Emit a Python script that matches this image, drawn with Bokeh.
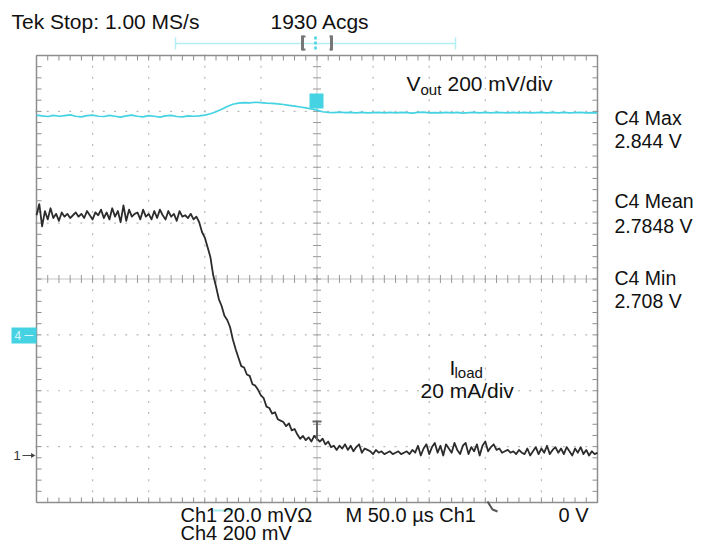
import numpy as np
from bokeh.plotting import figure
from bokeh.models import Range1d
from bokeh.core.properties import value
from bokeh.embed import file_html
from bokeh.resources import INLINE

# ---------------- data ----------------
# time base: 50 us/div, trigger at the centre of the screen
t_iload_us = np.arange(-250.0, 250.01, 2.5)          # 201 samples
iload_mA = [
    # flat high level
    86.0, 90.0, 82.0, 87.5, 84.5, 88.5, 85.0, 86.5, 84.0, 87.0,
    85.5, 86.5, 85.0, 86.0, 87.0, 85.5, 86.5, 85.0, 87.5, 86.0,
    84.5, 87.0, 86.0, 88.0, 85.0, 87.0, 84.5, 88.5, 85.5, 87.5,
    83.5, 89.5, 84.0, 88.0, 85.5, 86.5, 87.0, 84.5, 88.0, 85.5,
    86.5, 84.5, 87.5, 85.0, 88.0, 86.0, 84.5, 87.5, 85.5, 86.5,
    84.0, 87.5, 85.5, 86.0, 85.0, 86.5, 84.5, 85.5,
    # load release
    83.5, 80.0, 78.0, 74.5, 71.0, 64.5, 60.5, 56.0, 53.5, 50.0,
    48.5, 46.0, 41.5, 38.0, 35.0, 32.0, 31.5, 29.0, 28.5, 25.5,
    25.0, 23.5, 21.5, 20.5, 17.5, 17.0, 15.0, 15.5, 13.0, 12.5,
    12.0, 10.5, 11.5, 9.0, 9.5, 7.5, 6.0, 7.0, 5.5, 6.5,
    5.0, 7.0, 6.0, 5.0, 6.0, 4.0, 5.0, 3.0, 3.5, 2.0,
    3.5,
    # flat low level
    2.5, 4.0, 2.0, 3.5, 1.5, 3.0, 4.0, 1.0, 2.5, 2.0,
    1.5, 0.5, 2.0, 1.0, 1.5, 0.5, 1.0, 1.5, 0.5, 1.0,
    1.5, 0.5, 1.0, 1.5, 0.5, 2.0, 1.0, 3.5, 0.0, 2.5,
    4.0, 0.5, 3.0, 4.5, 1.0, 3.5, 0.0, 4.0, 2.5, 1.0,
    4.5, 2.0, 0.5, 3.5, 4.5, 0.5, 3.0, 1.5, 4.0, 0.0,
    3.5, 5.0, 1.5, 3.0, 4.0, 2.0, 2.5, 1.0, 1.5, 2.0,
    1.0, 1.5, 0.5, 2.0, 1.0, 0.5, 2.5, 0.0, 1.5, 3.0,
    0.5, 2.5, 1.0, 3.5, 0.5, 2.0, 3.0, 1.0, 2.5, 0.5,
    3.0, 1.5, 0.0, 2.5, 1.0, 3.0, 0.5, 2.0, 0.0, 1.5,
    0.5, 1.0,
]

t_vout_us = np.arange(-250.0, 250.01, 5.0)           # 101 samples
vout_V = [
    2.779, 2.776, 2.774, 2.778, 2.775, 2.777, 2.780, 2.775, 2.773, 2.777,
    2.779, 2.775, 2.774, 2.778, 2.775, 2.772, 2.776, 2.779, 2.775, 2.773,
    2.777, 2.775, 2.772, 2.776, 2.778, 2.774, 2.773, 2.776, 2.775,
    2.776, 2.779, 2.784, 2.791, 2.800, 2.810, 2.818, 2.822, 2.824, 2.823,
    2.825, 2.824, 2.822, 2.821,
    2.819, 2.817, 2.814, 2.811, 2.808, 2.805, 2.801, 2.797,
    2.791, 2.789, 2.788, 2.790, 2.788, 2.789, 2.787, 2.789, 2.787, 2.788,
    2.789, 2.787, 2.789, 2.787, 2.789, 2.788, 2.786, 2.789, 2.790, 2.787,
    2.788, 2.787, 2.789, 2.787, 2.789, 2.786, 2.788, 2.789, 2.787, 2.789,
    2.787, 2.789, 2.788, 2.787, 2.789, 2.787, 2.789, 2.787, 2.788, 2.789,
    2.787, 2.789, 2.787, 2.789, 2.787, 2.788, 2.789, 2.787, 2.788, 2.787,
]

header_left = "Tek Stop: 1.00 MS/s"
header_mid = "1930 Acgs"
vout_label = ("V", "out", "200 mV/div")
iload_label = ("I", "load", "20 mA/div")
meas_names = ["C4 Max", "C4 Mean", "C4 Min"]
meas_values = ["2.844 V", "2.7848 V", "2.708 V"]
ch_settings = ["Ch1 20.0 mV\u03a9", "Ch4 200 mV"]
timebase_text = "M 50.0 \u00b5s Ch1"
trigger_text = "0 V"

US_PER_DIV = 50.0
MA_PER_DIV = 20.0
V_PER_DIV = 0.2

# ---------------- layout (canvas pixels) ----------------
W, H = 694, 544
PXX = 56.1      # px per horizontal division
PXY = 55.875    # px per vertical division
CXP, CYP = 316.5, 278.5   # screen centre
GND1_PY = 455.0           # channel-1 ground marker
V_REF_PY = 113.0          # position of the mean Vout


def X(px):
    return (px - CXP) / PXX * US_PER_DIV


def Y(py):
    return (CYP - py) / PXY


def IA(py):
    return (GND1_PY - py) / PXY * MA_PER_DIV


def VV(py):
    return 2.7848 + (V_REF_PY - py) / PXY * V_PER_DIV


p = figure(width=W, height=H, output_backend="svg", toolbar_location=None,
           x_axis_location=None, y_axis_location=None,
           x_range=Range1d(X(0), X(W)), y_range=Range1d(Y(H), Y(0)),
           min_border=0)
p.extra_y_ranges = {"iload": Range1d(IA(H), IA(0)),
                    "vout": Range1d(VV(H), VV(0))}
p.outline_line_color = None
p.background_fill_color = "white"
p.border_fill_color = "white"
p.xgrid.visible = False
p.ygrid.visible = False

FONT = value("Liberation Sans")
GRID = "#b9b9b9"
FRAME = "#8e8e8e"
CYAN = "#45d3e3"

XMIN, XMAX = -5 * US_PER_DIV, 5 * US_PER_DIV
YMIN, YMAX = -4.0, 4.0
minor_x = np.arange(XMIN, XMAX + 0.01, US_PER_DIV / 5)
minor_y = np.arange(YMIN, YMAX + 0.001, 0.2)

# dotted graticule lines
for k in range(-4, 5):
    if k == 0:
        continue
    xv = k * US_PER_DIV
    p.rect(x=[xv] * len(minor_y), y=list(minor_y), width=1.2, height=2,
           width_units="screen", height_units="screen",
           fill_color=GRID, line_color=None)
for k in range(-3, 4):
    if k == 0:
        continue
    p.rect(x=list(minor_x), y=[float(k)] * len(minor_x), width=2, height=1.2,
           width_units="screen", height_units="screen",
           fill_color=GRID, line_color=None)

# centre lines with cross ticks
p.line([XMIN, XMAX], [0, 0], line_color="#c4c4c4", line_width=1)
p.line([0, 0], [YMIN, YMAX], line_color="#c4c4c4", line_width=1)
tly = 4 / PXY
tlx = 4 / PXX * US_PER_DIV
p.segment(x0=minor_x, y0=-tly, x1=minor_x, y1=tly, line_color="#999999", line_width=1)
p.segment(x0=-tlx, y0=minor_y, x1=tlx, y1=minor_y, line_color="#999999", line_width=1)

# border with inward ticks
bt = 5 / PXY
bx = 5 / PXX * US_PER_DIV
p.segment(x0=minor_x, y0=YMAX, x1=minor_x, y1=YMAX - bt, line_color=FRAME, line_width=1)
p.segment(x0=minor_x, y0=YMIN, x1=minor_x, y1=YMIN + bt, line_color=FRAME, line_width=1)
p.segment(x0=XMIN, y0=minor_y, x1=XMIN + bx, y1=minor_y, line_color=FRAME, line_width=1)
p.segment(x0=XMAX, y0=minor_y, x1=XMAX - bx, y1=minor_y, line_color=FRAME, line_width=1)
p.line([XMIN, XMAX, XMAX, XMIN, XMIN], [YMIN, YMIN, YMAX, YMAX, YMIN],
       line_color=FRAME, line_width=1.5)

# ---------------- traces ----------------
p.line(x=list(t_vout_us), y=vout_V, y_range_name="vout",
       line_color=CYAN, line_width=1.7)
p.line(x=list(t_iload_us), y=iload_mA, y_range_name="iload",
       line_color="#2c2c2c", line_width=1.8, line_join="round")

# ---------------- markers ----------------
# trigger-position box on Vout trace
p.quad(left=X(309), right=X(323), top=Y(93), bottom=Y(108),
       fill_color=CYAN, line_color=None)
# channel 4 reference marker
p.quad(left=X(11), right=X(36), top=Y(327), bottom=Y(343),
       fill_color=CYAN, line_color=None)
p.text(x=[X(14)], y=[Y(335)], text=["4"], text_font=FONT, text_font_size="12px",
       text_color="white", text_alpha=0.8, text_baseline="middle")
p.segment(x0=X(24), y0=Y(335), x1=X(33), y1=Y(335), line_color="white",
          line_alpha=0.8, line_width=1.2)
# channel 1 ground marker
p.text(x=[X(13)], y=[Y(455)], text=["1"], text_font=FONT, text_font_size="13px",
       text_color="#333333", text_baseline="middle")
p.segment(x0=X(22), y0=Y(455), x1=X(33), y1=Y(455), line_color="#444444", line_width=1.2)
p.scatter(x=[X(32)], y=[Y(455)], marker="triangle", size=5, angle=-np.pi / 2,
          fill_color="#444444", line_color=None)
# trigger level marker on centre line
p.segment(x0=[X(316.5), X(312)], y0=[Y(420), Y(421)], x1=[X(316.5), X(321)],
          y1=[Y(440), Y(421)], line_color="#666666", line_width=2)
# slope marker under the graticule
p.line([X(487), X(492), X(497)], [Y(501), Y(509), Y(511)],
       line_color="#555555", line_width=2)
# small cyan coupling indicator
p.segment(x0=X(213), y0=Y(510), x1=X(233), y1=Y(510), line_color="#a6e9f0", line_width=2)

# record window bracket at the top
p.segment(x0=X(175), y0=Y(43), x1=X(455), y1=Y(43), line_color="#b3eef3", line_width=1.5)
p.segment(x0=[X(175), X(455)], y0=[Y(37), Y(37)], x1=[X(175), X(455)], y1=[Y(49), Y(49)],
          line_color="#b3eef3", line_width=1.5)
p.segment(x0=[X(302), X(331)], y0=[Y(35), Y(35)], x1=[X(302), X(331)], y1=[Y(50), Y(50)],
          line_color="#777777", line_width=3)
p.segment(x0=[X(302), X(302), X(329), X(329)], y0=[Y(36), Y(49), Y(36), Y(49)],
          x1=[X(305), X(305), X(331), X(331)], y1=[Y(36), Y(49), Y(36), Y(49)],
          line_color="#777777", line_width=2)
p.segment(x0=X(315), y0=Y(36), x1=X(315), y1=Y(49), line_color=CYAN,
          line_width=2.5, line_dash="3 2")


# ---------------- texts (y = vertical middle of the text) ----------------
def txt(px, py, s, size=21, color="#111111"):
    p.text(x=[X(px)], y=[Y(py)], text=[s], text_font=FONT,
           text_font_size=f"{size}px", text_color=color,
           text_baseline="middle", text_align="left")


txt(11, 20.5, header_left)
txt(270, 20.5, header_mid)

txt(406, 82.5, vout_label[0])
txt(420, 89, vout_label[1], size=15)
txt(447, 82.5, vout_label[2])

txt(449, 367, iload_label[0])
txt(454, 372, iload_label[1], size=15)
txt(420, 389.5, iload_label[2])

meas_y = [(117.5, 140.5), (200, 225), (277.5, 300.5)]
for name, val, (y1, y2) in zip(meas_names, meas_values, meas_y):
    txt(614, y1, name, size=19.5)
    txt(614, y2, val, size=19.5)

txt(180, 514, ch_settings[0], size=20)
txt(180, 532, ch_settings[1], size=20)
txt(345, 514, timebase_text, size=20)
txt(558, 514, trigger_text, size=20)

open("out.html", "w").write(file_html(p, INLINE))
